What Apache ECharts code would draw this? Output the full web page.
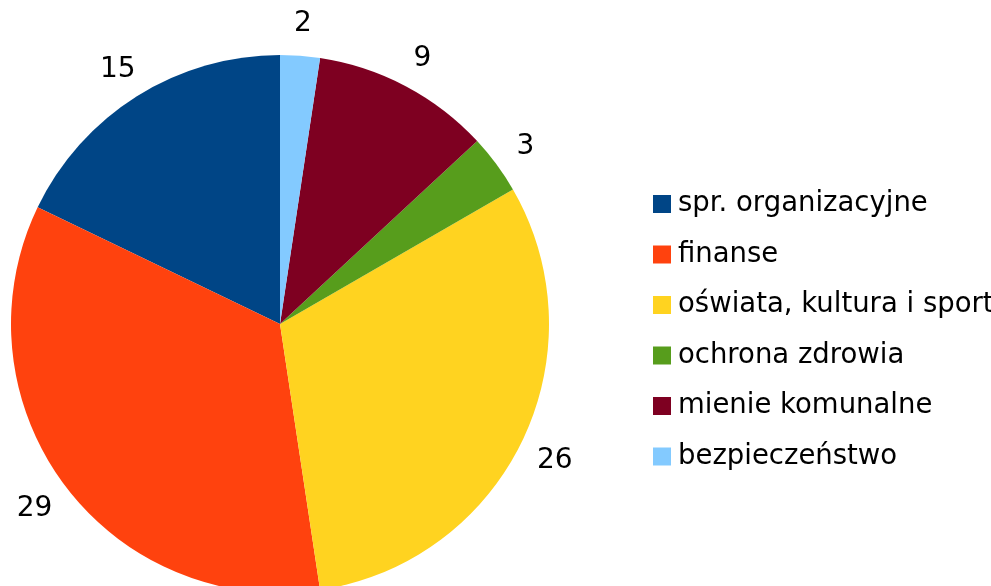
<!DOCTYPE html>
<html lang="pl">

<head>
  <meta charset="UTF-8">
  <title>Wykres</title>
  <script src="https://cdn.jsdelivr.net/npm/echarts@6/dist/echarts.min.js"></script>
</head>

<body style="margin: 0">
  <div id="main" style="width: 991px; height: 586px"></div>

  <script>
    let categories = ['spr. organizacyjne', 'finanse', 'oświata, kultura i sport', 'ochrona zdrowia', 'mienie komunalne', 'bezpieczeństwo']
    let values = [15, 29, 26, 3, 9, 2]
    let colors = ['#004586', '#ff420e', '#ffd320', '#579d1c', '#7e0021', '#83caff']

    let data = categories.map((name, i) => ({ name: name, value: values[i] }))

    let myChart = echarts.init(document.getElementById('main'))
    let option = {
      color: colors,
      textStyle: { fontFamily: 'DejaVu Sans' },
      legend: {
        orient: 'vertical',
        left: 648,
        top: 185,
        itemWidth: 18,
        itemHeight: 18,
        itemGap: 22.5,
        icon: 'rect',
        data: categories,
        textStyle: { fontSize: 27.5, color: '#000', fontFamily: 'DejaVu Sans', padding: [0, 0, 0, 2] }
      },
      series: [{
          type: 'pie',
          center: [280, 324],
          radius: [0, 269],
          startAngle: 90,
          clockwise: false, // LibreOffice rysuje przeciwnie do wskazówek
          data: data,
          label: { show: false },
          labelLine: { show: false },
          emphasis: { disabled: true }
        },
        {
          // tylko etykiety z wartościami, poza kołem
          type: 'pie',
          center: [280, 324],
          radius: [269, 335],
          startAngle: 90,
          clockwise: false,
          silent: true,
          data: data,
          itemStyle: { color: 'rgba(0,0,0,0)' },
          label: {
            show: true,
            position: 'inside',
            formatter: '{c}',
            fontSize: 28,
            color: '#000',
            fontFamily: 'DejaVu Sans',
            offset: [0, 4]
          },
          labelLine: { show: false },
          emphasis: { disabled: true }
        }
      ]
    }
    myChart.setOption(option)
  </script>
</body>

</html>
